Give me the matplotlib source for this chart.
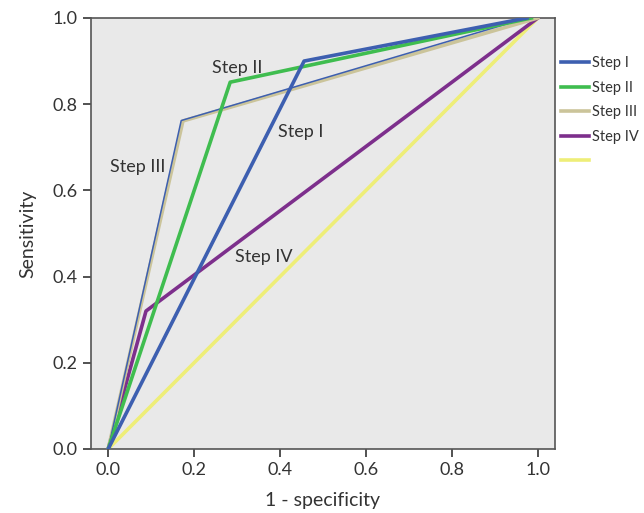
import matplotlib
matplotlib.use("Agg")
import matplotlib.pyplot as plt

plt.rcParams['font.family'] = ['Lato', 'DejaVu Sans']

# Dati delle curve ROC (1 - specificity, sensitivity)
step1_x = [0.0, 0.456, 0.975]
step1_y = [0.0, 0.90, 1.0]
step2_x = [0.0, 0.284, 0.985]
step2_y = [0.0, 0.851, 1.0]
step3_x = [0.0, 0.174, 1.0]
step3_y = [0.0, 0.761, 1.0]
step3_thin_x = [0.0, 0.170, 0.975]
step3_thin_y = [0.0, 0.762, 1.0]
step4_x = [0.0, 0.088, 1.0]
step4_y = [0.0, 0.32, 1.0]
ref_x = [0.0, 1.0]
ref_y = [0.0, 1.0]

series_names = ["Step I", "Step II", "Step III", "Step IV", " "]
colors = ["#3d5fb0", "#3fbd4f", "#cbc49a", "#7d2f8c", "#eeee78"]

# Etichette sul grafico
annotations = [("Step II", 0.30, 0.885), ("Step I", 0.447, 0.735),
               ("Step III", 0.068, 0.655), ("Step IV", 0.362, 0.445)]

fig = plt.figure(figsize=(6.44, 5.13), dpi=100, facecolor='white')
ax = fig.add_axes([0.1413, 0.1248, 0.7205, 0.8402])
ax.set_facecolor('#e9e9e9')

lw = 2.6
l5, = ax.plot(ref_x, ref_y, color=colors[4], lw=lw, zorder=2)
l4, = ax.plot(step4_x, step4_y, color=colors[3], lw=lw, zorder=3)
l3, = ax.plot(step3_x, step3_y, color=colors[2], lw=lw, zorder=4)
ax.plot(step3_thin_x, step3_thin_y, color=colors[0], lw=1.1, zorder=4.5)
l2, = ax.plot(step2_x, step2_y, color=colors[1], lw=lw, zorder=5)
l1, = ax.plot(step1_x, step1_y, color=colors[0], lw=lw, zorder=6)

for txt, x, y in annotations:
    ax.text(x, y, txt, fontsize=13, color='#333333', ha='center', va='center', zorder=7)

ax.set_xlim(-0.04, 1.04)
ax.set_ylim(0, 1)
ax.set_xticks([0, 0.2, 0.4, 0.6, 0.8, 1.0])
ax.set_yticks([0, 0.2, 0.4, 0.6, 0.8, 1.0])
ax.set_xticklabels(["0.0", "0.2", "0.4", "0.6", "0.8", "1.0"])
ax.set_yticklabels(["0.0", "0.2", "0.4", "0.6", "0.8", "1.0"])
ax.tick_params(axis='both', labelsize=13, length=6, width=1.2, colors='#333333')
for s in ax.spines.values():
    s.set_color('#555555')
    s.set_linewidth(1.2)

ax.set_xlabel("1 - specificity", fontsize=14, color='#333333', labelpad=10)
ax.set_ylabel("Sensitivity", fontsize=14, color='#333333', labelpad=12)

# Legenda a destra, fuori dagli assi
leg = fig.legend([l1, l2, l3, l4, l5], series_names,
                 loc='upper left', bbox_to_anchor=(0.862, 0.902),
                 frameon=False, fontsize=10.5, handlelength=1.9,
                 handletextpad=0.25, labelspacing=0.72, borderaxespad=0)
for t in leg.get_texts():
    t.set_color('#333333')

plt.savefig("out.png", dpi=100)
